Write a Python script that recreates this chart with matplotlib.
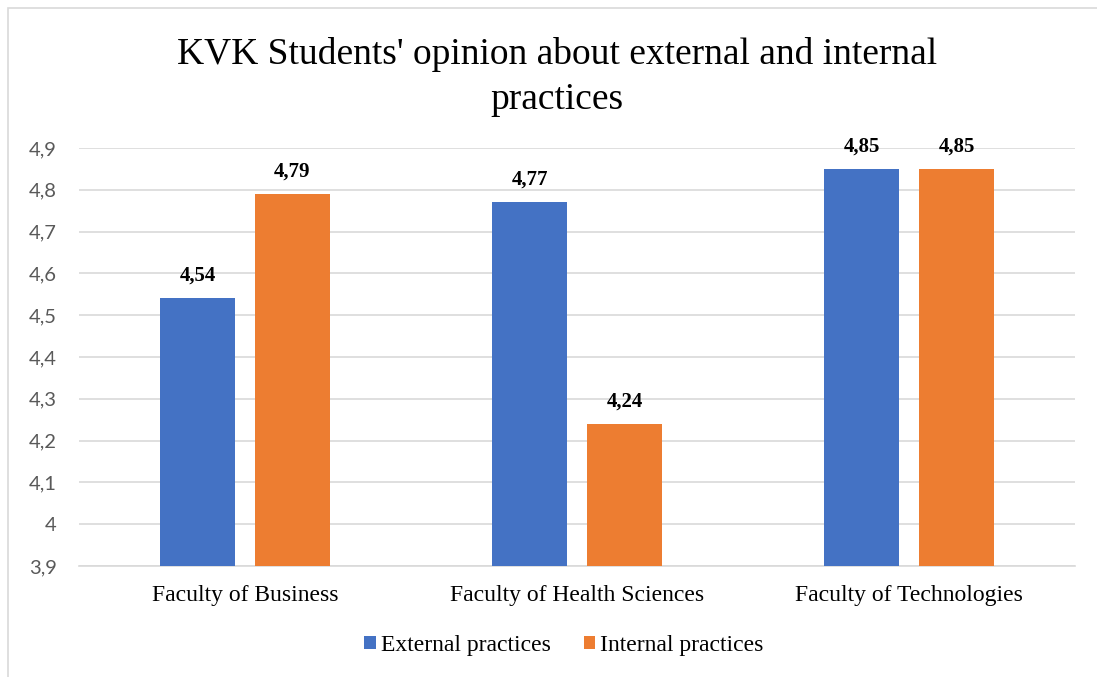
import matplotlib.pyplot as plt
import numpy as np
from matplotlib.patches import Rectangle

categories = ['Faculty of Business', 'Faculty of Health Sciences', 'Faculty of Technologies']
external = [4.54, 4.77, 4.85]
internal = [4.79, 4.24, 4.85]
y_ticks = [3.9, 4.0, 4.1, 4.2, 4.3, 4.4, 4.5, 4.6, 4.7, 4.8, 4.9]
y_tick_labels = ['3,9', '4', '4,1', '4,2', '4,3', '4,4', '4,5', '4,6', '4,7', '4,8', '4,9']

serif = 'Liberation Serif'
blue = '#4472C4'
orange = '#ED7D31'

fig = plt.figure(figsize=(10.97, 6.77), dpi=100)
ax = fig.add_axes([0.072, 0.164, 0.908, 0.6174])

x = np.arange(len(categories))
w = 0.226
off = 0.143
b1 = ax.bar(x - off, external, w, bottom=0, color=blue, label='External practices', zorder=3)
b2 = ax.bar(x + off, internal, w, bottom=0, color=orange, label='Internal practices', zorder=3)

for bars, vals in ((b1, external), (b2, internal)):
    for rect, v in zip(bars, vals):
        ax.text(rect.get_x() + rect.get_width() / 2, v + 0.03, f'{v:.2f}'.replace('.', ','),
                ha='center', va='bottom', fontsize=15, fontweight='bold', family=serif)

ax.set_xlim(-0.5, 2.5)
ax.set_ylim(3.9, 4.9)
ax.set_yticks(y_ticks)
ax.set_yticklabels(y_tick_labels, fontsize=14.5, color='#595959', family='Lato')
ax.set_xticks(x)
ax.set_xticklabels(categories, fontsize=17, family=serif)
ax.tick_params(axis='both', length=0)
ax.tick_params(axis='y', pad=16)
ax.tick_params(axis='x', pad=14)
ax.grid(axis='y', color='#d9d9d9', linewidth=1.2, zorder=0)
for s in ['top', 'right', 'left']:
    ax.spines[s].set_visible(False)
ax.spines['bottom'].set_color('#d9d9d9')
ax.spines['bottom'].set_linewidth(1.2)

fig.text(0.508, 0.886, "KVK Students' opinion about external and internal\npractices",
         ha='center', va='center', fontsize=27, family=serif, linespacing=1.4)

leg = fig.legend(loc='center', bbox_to_anchor=(0.514, 0.047), ncol=2, frameon=False,
                 prop={'family': serif, 'size': 17}, handlelength=0.5, handleheight=0.5,
                 handletextpad=0.2, columnspacing=1.4)

# chart frame (cut at right and bottom)
fig.add_artist(Rectangle((8 / 1097, -0.1), 1.2, 1 - 8 / 677 + 0.1, transform=fig.transFigure,
                         fill=False, edgecolor='#d9d9d9', linewidth=1.2))

fig.savefig('out.png', dpi=100)
